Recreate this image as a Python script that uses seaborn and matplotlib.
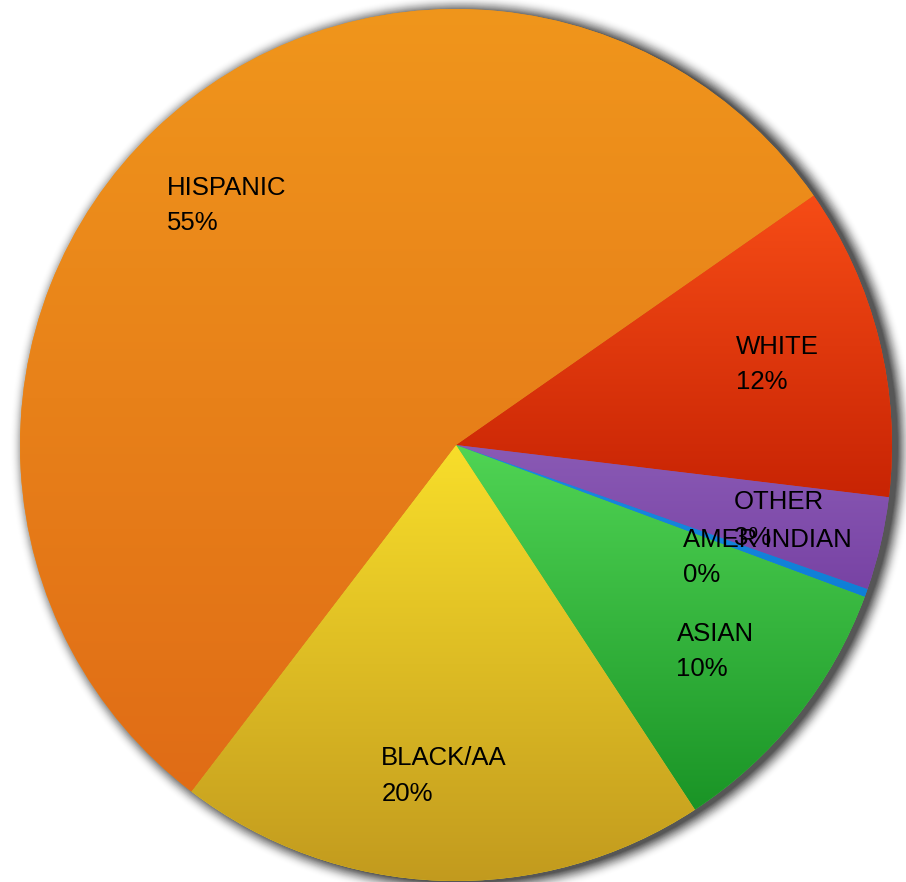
import matplotlib
matplotlib.use('Agg')
import matplotlib.pyplot as plt
import matplotlib.colors as mcolors
from matplotlib.patches import Circle
import numpy as np
import seaborn as sns

sns.set_style('white')
plt.rcParams['font.family'] = ['Liberation Sans', 'DejaVu Sans']

# Data (clockwise from the WHITE slice)
groups = ['WHITE', 'OTHER', 'AMER INDIAN', 'ASIAN', 'BLACK/AA', 'HISPANIC']
shares = [11.6, 3.45, 0.3, 10.1, 19.6, 54.9]

# top / bottom colours of each slice's vertical gradient
top_colors = ['#f64c16', '#8a5ab5', '#1a8ae4', '#50d454', '#f8de2a', '#f0961c']
bottom_colors = ['#c82404', '#7843a4', '#0f7fd6', '#1a9426', '#c29a1e', '#e06c16']

total = sum(shares)
pcts = [round(v / total * 100) for v in shares]
labels = [f'{g}\n{p}%' for g, p in zip(groups, pcts)]

fig = plt.figure(figsize=(9.06, 8.82), dpi=100)
ax = fig.add_axes([20 / 906, 1 / 882, 872 / 906, 872 / 882])

# blurred drop shadow, shifted to the right; outer rings fainter
px = 1 / 436
n = 18
for k in range(n):
    ax.add_patch(Circle((6 * px, -2 * px), 1 + k * px, color='black',
                        alpha=0.13 * (1 - k / n) ** 1.6, lw=0, zorder=0,
                        clip_on=False))

wedges, texts = ax.pie(shares, labels=labels, colors=top_colors,
                       startangle=34.9, counterclock=False, labeldistance=0.76,
                       wedgeprops=dict(linewidth=0),
                       textprops=dict(fontsize=18.5, color='black'))

# vertical gradient fill, clipped to each wedge
for w, c1, c2 in zip(wedges, top_colors, bottom_colors):
    w.set_zorder(1)
    verts = w.get_patch_transform().transform(w.get_path().vertices)
    x0, y0 = verts.min(axis=0)
    x1, y1 = verts.max(axis=0)
    a = np.array(mcolors.to_rgb(c2))
    b = np.array(mcolors.to_rgb(c1))
    t = np.linspace(0, 1, 256)[:, None, None]
    grad = a + (b - a) * t
    im = ax.imshow(grad, extent=[x0, x1, y0, y1], origin='lower',
                   aspect='auto', zorder=2, interpolation='bilinear')
    im.set_clip_path(w)

for t in texts:
    t.set_ha('center')
    t.set_va('center')
    t.set_multialignment('left')
    t.set_linespacing(1.6)
    t.set_zorder(5)

ax.set_xlim(-1, 1)
ax.set_ylim(-1, 1)
ax.set_aspect('equal')
ax.axis('off')

fig.savefig('out.png', dpi=100)
